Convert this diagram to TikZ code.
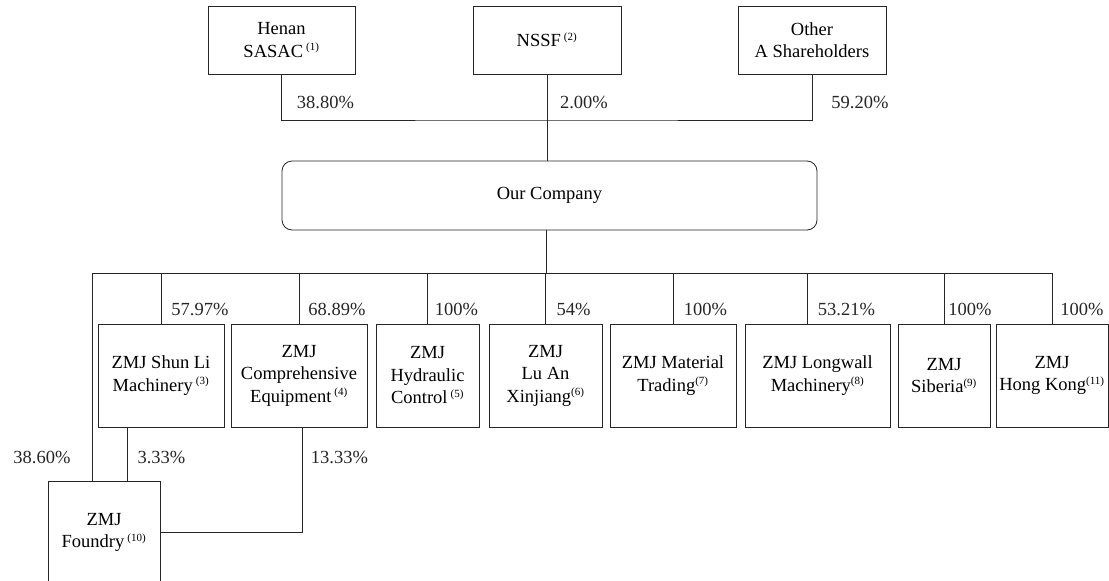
\documentclass[tikz,border=0pt]{standalone}
\usepackage{fontspec}
\setmainfont{Liberation Serif}
\newcommand{\fnote}[1]{\textsuperscript{\fontsize{11}{11}\selectfont(#1)}}
\begin{document}
\begin{tikzpicture}[
    x=1pt, y=-1pt,
    every node/.style={align=center, font=\fontsize{18.5}{22.5}\selectfont},
    holder/.style={draw=black!85, line width=0.8pt, minimum height=68pt, inner sep=0pt},
    member/.style={draw=black!85, line width=0.8pt, minimum height=103pt, inner sep=0pt},
    share/.style={inner sep=0pt, text=black!85},
    owner line/.style={draw=black!85, line width=0.8pt},
    ]
\useasboundingbox (0,0) rectangle (1109,581);
\node[holder, minimum width=147pt] (henan) at (281.5,40) {Henan\\SASAC\,\fnote{1}};
\node[holder, minimum width=148pt] (nssf) at (547,40) {NSSF\,\fnote{2}};
\node[holder, minimum width=148pt] (other) at (812,40) {Other\\A Shareholders};
\coordinate (topbus) at (546,120);
\draw[owner line] (henan.south) |- (topbus) -| (other.south);
\node[share] (pHenan) at (325.5,102) {38.80\%};
\node[share] (pNssf) at (584,102) {2.00\%};
\node[share] (pOther) at (860,102) {59.20\%};
\node[draw=black!85, line width=0.8pt, rounded corners=10pt, minimum width=535pt, minimum height=69pt] (company) at (549.5,195.5) {Our Company};
\draw[owner line] (nssf.south) -- (nssf.south |- company.north);
\coordinate (midbus) at (546,273);
\coordinate (busleft) at (92,273);
\draw[owner line] (company.south -| midbus) -- (midbus);
\node[member, minimum width=126pt] (shunli) at (161,375.5) {ZMJ Shun Li\\Machinery\,\fnote{3}};
\node[member, minimum width=136pt] (comp) at (299,375.5) {ZMJ\\Comprehensive\\Equipment\,\fnote{4}};
\node[member, minimum width=103pt] (hydraulic) at (427.5,375.5) {ZMJ\\Hydraulic\\Control\,\fnote{5}};
\node[member, minimum width=113pt] (luan) at (545.5,375.5) {ZMJ\\Lu An\\Xinjiang\fnote{6}};
\node[member, minimum width=126pt] (material) at (673,375.5) {ZMJ Material\\Trading\fnote{7}};
\node[member, minimum width=145pt] (longwall) at (817.5,375.5) {ZMJ Longwall\\Machinery\fnote{8}};
\node[member, minimum width=92pt] (siberia) at (944,375.5) {ZMJ\\Siberia\fnote{9}};
\node[member, minimum width=112pt] (hongkong) at (1052,375.5) {ZMJ\\Hong Kong\fnote{11}};
\node[member, minimum width=112pt] (foundry) at (104,532.5) {ZMJ\\Foundry\,\fnote{10}};
\draw[owner line] (busleft) -- (busleft -| hongkong.north) -- (hongkong.north);
\draw[owner line] (shunli.north) -- (shunli.north |- busleft);
\draw[owner line] (comp.north) -- (comp.north |- busleft);
\draw[owner line] (hydraulic.north) -- (hydraulic.north |- busleft);
\draw[owner line] (luan.north) -- (luan.north |- busleft);
\draw[owner line] (material.north) -- (material.north |- busleft);
\draw[owner line] ([xshift=-10.5pt]longwall.north) -- ([xshift=-10.5pt]longwall.north |- busleft);
\draw[owner line] (siberia.north) -- (siberia.north |- busleft);
\node[share] (pShunli) at (200,309) {57.97\%};
\node[share] (pComp) at (337,309) {68.89\%};
\node[share] (pHydraulic) at (456.5,309) {100\%};
\node[share] (pLuan) at (573.5,309) {54\%};
\node[share] (pMaterial) at (705.5,309) {100\%};
\node[share] (pLongwall) at (846.5,309) {53.21\%};
\node[share] (pSiberia) at (970,309) {100\%};
\node[share] (pHongkong) at (1082,309) {100\%};
\draw[owner line] (busleft) -- (busleft |- foundry.north);
\draw[owner line] ([xshift=-34pt]shunli.south) -- ([xshift=-34pt]shunli.south |- foundry.north);
\draw[owner line] ([xshift=3pt]comp.south) |- (foundry.east);
\node[share] (pFoundry) at (42,457) {38.60\%};
\node[share] (pShunliF) at (161.5,457) {3.33\%};
\node[share] (pCompF) at (339.5,457) {13.33\%};
\end{tikzpicture}
\end{document}
